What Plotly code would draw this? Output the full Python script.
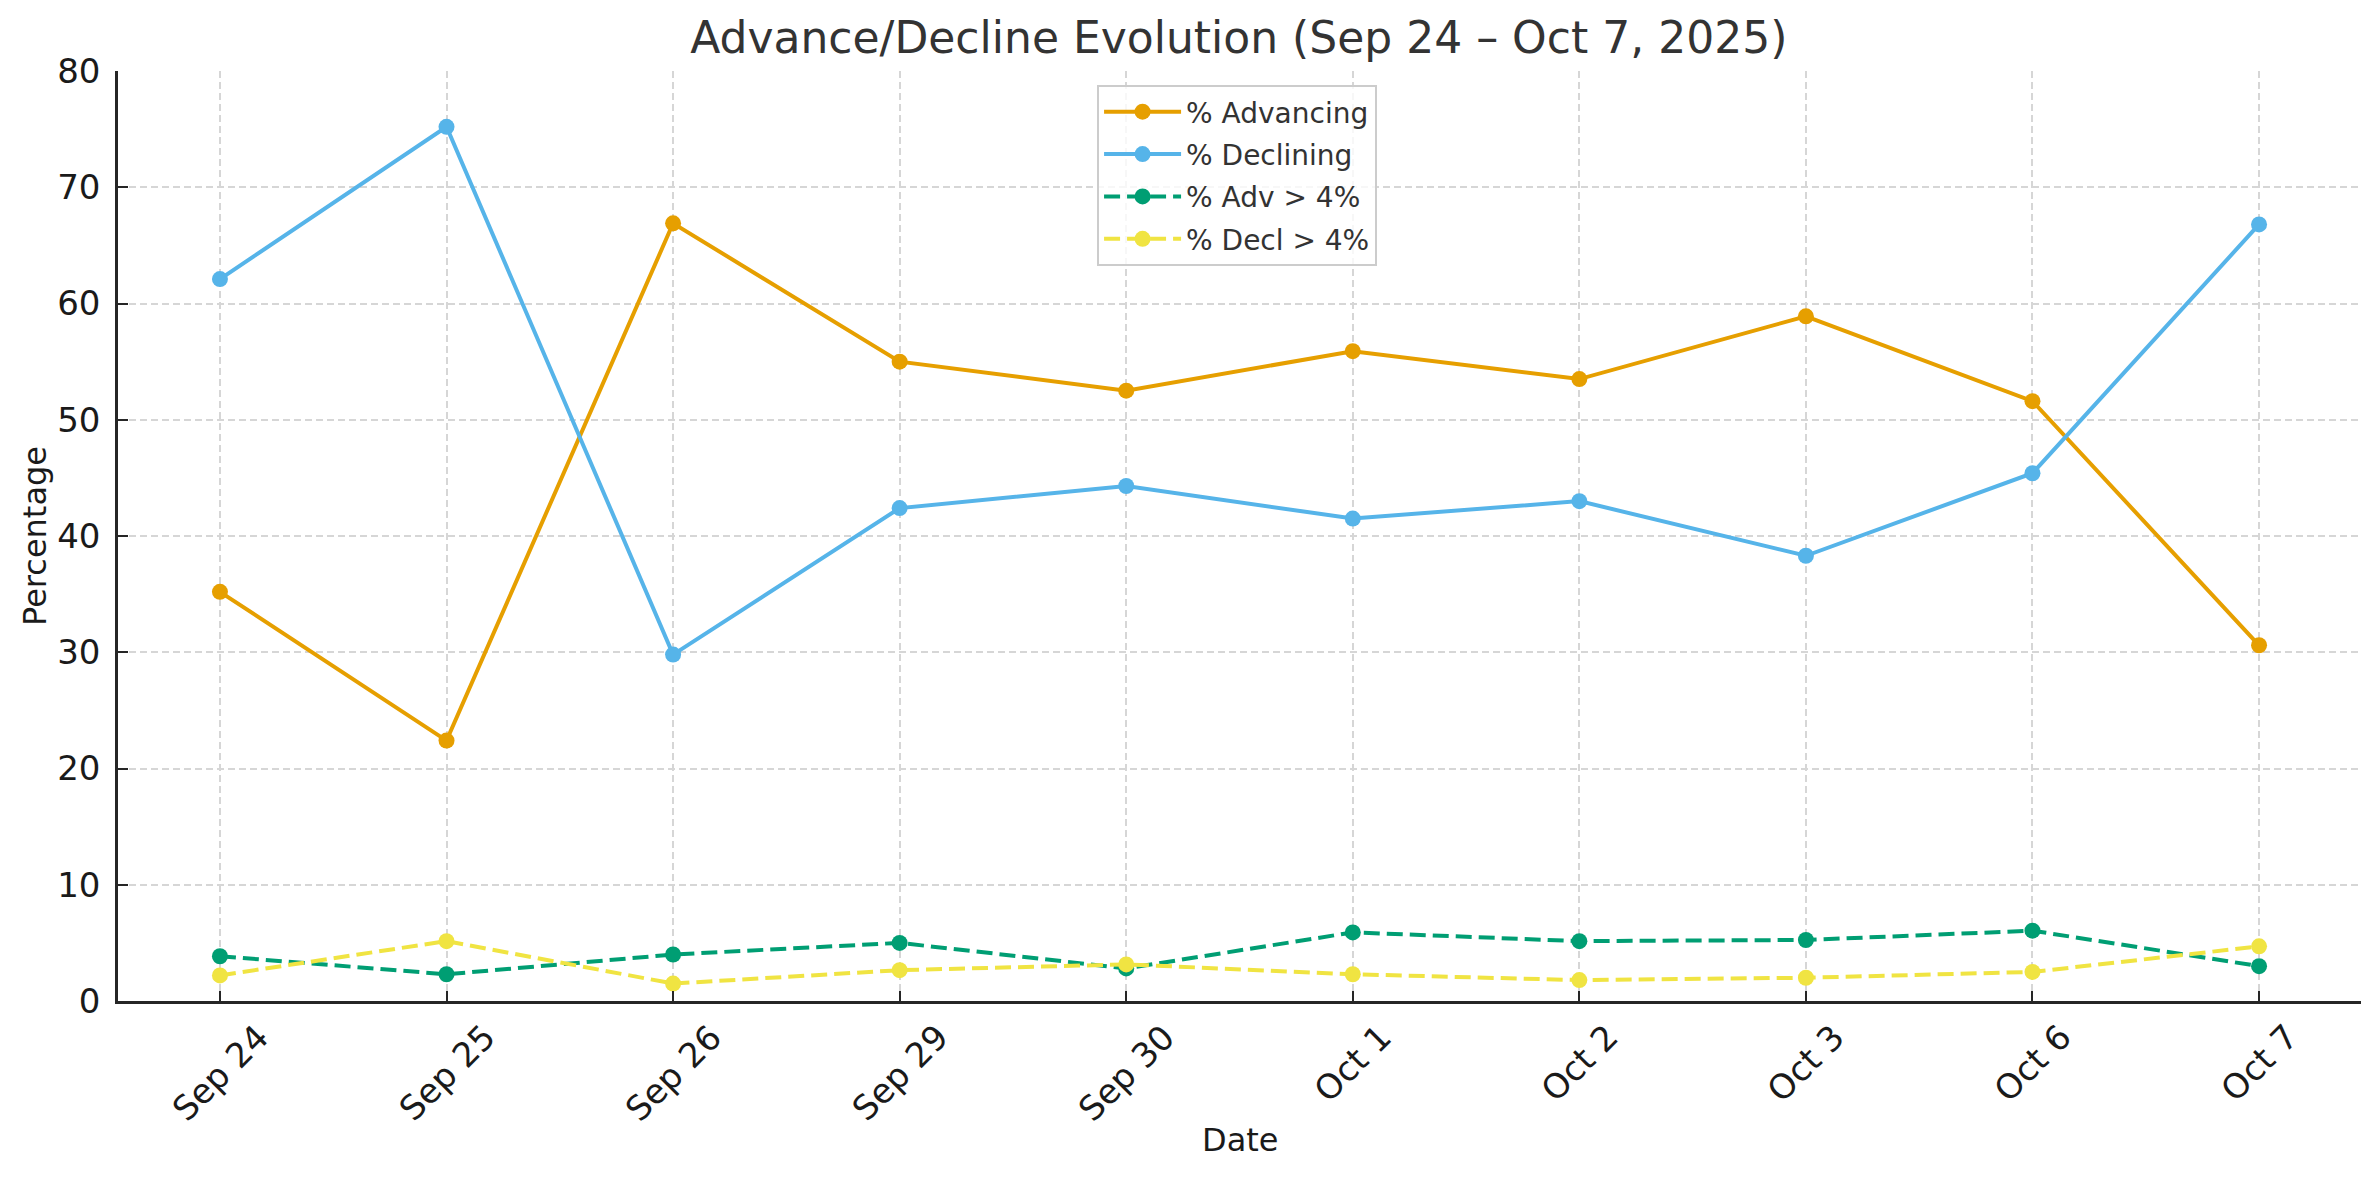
import plotly.graph_objects as go

dates = ["Sep 24", "Sep 25", "Sep 26", "Sep 29", "Sep 30",
         "Oct 1", "Oct 2", "Oct 3", "Oct 6", "Oct 7"]
pct_advancing = [35.2, 22.4, 66.9, 55.0, 52.5, 55.9, 53.5, 58.9, 51.6, 30.6]
pct_declining = [62.1, 75.2, 29.8, 42.4, 44.3, 41.5, 43.0, 38.3, 45.4, 66.8]
pct_adv_gt4 = [3.85, 2.3, 4.0, 5.0, 2.8, 5.9, 5.15, 5.25, 6.05, 3.0]
pct_decl_gt4 = [2.2, 5.15, 1.5, 2.65, 3.15, 2.3, 1.8, 2.0, 2.5, 4.7]
y_ticks = [0, 10, 20, 30, 40, 50, 60, 70, 80]

FONT = "DejaVu Sans"

series = [
    ("% Advancing", pct_advancing, "#E69F00", "solid"),
    ("% Declining", pct_declining, "#56B4E9", "solid"),
    ("% Adv > 4%", pct_adv_gt4, "#009E73", "16px,7px"),
    ("% Decl > 4%", pct_decl_gt4, "#F0E442", "16px,7px"),
]

fig = go.Figure()
for i, (name, vals, color, dash) in enumerate(series):
    fig.add_trace(go.Scatter(
        x=dates, y=vals, name=name, mode="lines+markers",
        line=dict(color=color, width=4, dash=dash),
        marker=dict(color=color, size=16, line=dict(width=0)),
        legendgroup=f"g{i}",
    ))

annotations = []
for d in dates:
    annotations.append(dict(
        x=d, y=-0.014, xref="x", yref="paper", text=d, showarrow=False,
        textangle=-45, xanchor="center", yanchor="top",
        font=dict(family=FONT, size=34, color="#1a1a1a"),
    ))
annotations.append(dict(
    x=0.5, y=-0.149, xref="paper", yref="paper", text="Date", showarrow=False,
    xanchor="center", yanchor="middle",
    font=dict(family=FONT, size=32, color="#1a1a1a"),
))
annotations.append(dict(
    x=-0.037, y=0.5, xref="paper", yref="paper", text="Percentage", showarrow=False,
    textangle=-90, xanchor="center", yanchor="middle",
    font=dict(family=FONT, size=32, color="#1a1a1a"),
))

fig.update_layout(
    width=2379, height=1180,
    margin=dict(l=118, r=18, t=71, b=179, autoexpand=False),
    paper_bgcolor="white", plot_bgcolor="white",
    font=dict(family=FONT, color="#1a1a1a"),
    title=dict(
        text="Advance/Decline Evolution (Sep 24 – Oct 7, 2025)",
        x=0.5207, xanchor="center", y=0.968, yanchor="middle",
        font=dict(family=FONT, size=44, color="#333333"),
    ),
    legend=dict(
        x=0.4365, y=0.985, xanchor="left", yanchor="top",
        bgcolor="rgba(255,255,255,0.8)", bordercolor="#cccccc", borderwidth=2,
        font=dict(family=FONT, size=28, color="#333333"),
        itemwidth=77, tracegroupgap=3,
    ),
    annotations=annotations,
    xaxis=dict(
        type="category", range=[-0.45, 9.45],
        showticklabels=False,
        showgrid=True, gridcolor="#d6d6d6", gridwidth=1.5, griddash="7px,4px",
        showline=True, linecolor="#262626", linewidth=2.5,
        ticks="inside", ticklen=10, tickwidth=2, tickcolor="#262626",
        zeroline=False,
    ),
    yaxis=dict(
        range=[0, 80], tickvals=y_ticks,
        showgrid=True, gridcolor="#d6d6d6", gridwidth=1.5, griddash="7px,4px",
        showline=True, linecolor="#262626", linewidth=2.5,
        ticks="inside", ticklen=10, tickwidth=2, tickcolor="#262626",
        ticklabelstandoff=8,
        tickfont=dict(family=FONT, size=34, color="#1a1a1a"),
        zeroline=False,
    ),
)

fig.write_html("out.html", config={"displayModeBar": False},
               post_script="document.body.style.margin='0';")
